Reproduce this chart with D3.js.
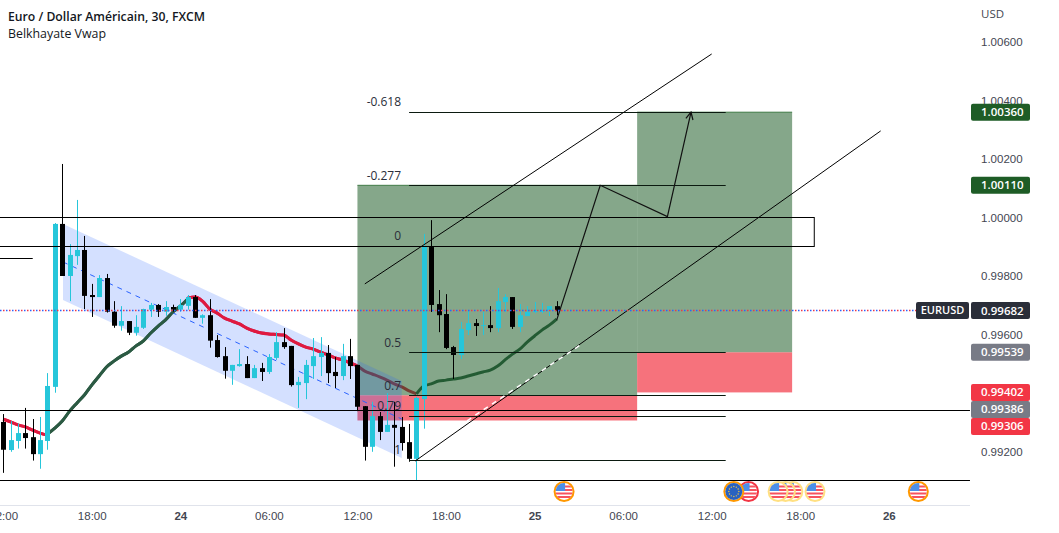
<!DOCTYPE html>
<html>
<head>
<meta charset="utf-8">
<script src="https://cdn.jsdelivr.net/npm/d3@7"></script>
<style>
html, body { margin: 0; padding: 0; background: #fff; }
svg { display: block; font-family: "Open Sans", "Noto Sans", sans-serif; }
</style>
</head>
<body>
<div id="result"></div>
<script>
// bars are counted from 24 00:00, one bar = 30 minutes
var firstBar = -24;
var opens = [
  0.99301,0.99205,0.99236,0.99263,0.99249,0.99191,0.99236,0.99421,0.99978,0.99800,
  0.99868,0.99889,0.99735,0.99728,0.99793,0.99678,0.99630,0.99646,0.99606,0.99623,
  0.99685,0.99701,0.99678,0.99694,0.99685,0.99698,0.99728,0.99657,0.99666,0.99581,
  0.99526,0.99476,0.99492,0.99499,0.99451,0.99485,0.99472,0.99520,0.99574,0.99561,
  0.99427,0.99434,0.99492,0.99523,0.99537,0.99472,0.99458,0.99526,0.99496,0.99355,
  0.99216,0.99321,0.99267,0.99291,0.99284,0.99232,0.99175,0.99379,0.99899,0.99704,
  0.99670,0.99557,0.99530,0.99615,0.99639,0.99629,0.99632,0.99622,0.99711,0.99728,
  0.99626,0.99663,0.99677,0.99677,0.99684,0.99697];
var highs = [
  0.99328,0.99304,0.99296,0.99349,0.99311,0.99318,0.99468,0.99981,1.00183,0.99909,
  1.00060,0.99937,0.99773,0.99803,0.99807,0.99714,0.99697,0.99646,0.99666,0.99688,
  0.99708,0.99704,0.99714,0.99702,0.99721,0.99735,0.99735,0.99669,0.99721,0.99598,
  0.99557,0.99496,0.99550,0.99526,0.99496,0.99503,0.99533,0.99608,0.99622,0.99561,
  0.99455,0.99513,0.99588,0.99591,0.99564,0.99523,0.99568,0.99585,0.99496,0.99355,
  0.99370,0.99335,0.99400,0.99370,0.99318,0.99294,0.99387,0.99944,0.99991,0.99752,
  0.99738,0.99561,0.99643,0.99680,0.99653,0.99680,0.99697,0.99759,0.99738,0.99728,
  0.99704,0.99697,0.99711,0.99708,0.99697,0.99714];
var lows = [
  0.99127,0.99199,0.99210,0.99210,0.99169,0.99141,0.99206,0.99401,0.99800,0.99714,
  0.99838,0.99687,0.99660,0.99728,0.99675,0.99623,0.99613,0.99598,0.99596,0.99619,
  0.99660,0.99660,0.99664,0.99678,0.99678,0.99685,0.99657,0.99637,0.99555,0.99521,
  0.99449,0.99428,0.99490,0.99451,0.99451,0.99441,0.99465,0.99513,0.99551,0.99422,
  0.99349,0.99379,0.99448,0.99458,0.99434,0.99417,0.99444,0.99448,0.99338,0.99169,
  0.99199,0.99239,0.99267,0.99148,0.99203,0.99165,0.99102,0.99278,0.99677,0.99608,
  0.99550,0.99448,0.99516,0.99598,0.99595,0.99598,0.99608,0.99608,0.99677,0.99619,
  0.99608,0.99663,0.99673,0.99673,0.99663,0.99666];
var closes = [
  0.99206,0.99239,0.99263,0.99246,0.99191,0.99239,0.99424,0.99978,0.99800,0.99872,
  0.99889,0.99732,0.99728,0.99793,0.99678,0.99630,0.99646,0.99606,0.99626,0.99687,
  0.99701,0.99678,0.99694,0.99685,0.99701,0.99728,0.99657,0.99666,0.99579,0.99523,
  0.99476,0.99496,0.99499,0.99451,0.99485,0.99472,0.99523,0.99574,0.99557,0.99427,
  0.99438,0.99496,0.99526,0.99537,0.99468,0.99458,0.99526,0.99492,0.99353,0.99216,
  0.99321,0.99267,0.99291,0.99281,0.99229,0.99175,0.99383,0.99899,0.99701,0.99666,
  0.99554,0.99530,0.99619,0.99639,0.99629,0.99632,0.99622,0.99714,0.99728,0.99626,
  0.99666,0.99677,0.99680,0.99684,0.99697,0.99680];

// Belkhayate Vwap, [first bar, values]
var vwapRed1 = [-24, [0.99311,0.99301,0.99291,0.99284,0.99273,0.99263,0.99256]];
var vwapGreen1 = [-18, [0.99260,0.99280,0.99304,0.99338,0.99366,0.99393,0.99427,0.99458,0.99489,0.99509,
  0.99526,0.99540,0.99561,0.99578,0.99605,0.99629,0.99650,0.99677,0.99697,0.99721]];
var vwapRed2 = [1, [0.99725,0.99728,0.99714,0.99687,0.99673,0.99656,0.99646,0.99636,0.99622,0.99612,
  0.99605,0.99602,0.99600,0.99598,0.99581,0.99568,0.99557,0.99550,0.99540,0.99530,
  0.99520,0.99513,0.99503,0.99492,0.99475,0.99465,0.99455,0.99444,0.99431,0.99421,0.99407,0.99397]];
var vwapGreen2 = [32, [0.99397,0.99424,0.99431,0.99441,0.99444,0.99448,0.99451,0.99458,0.99465,0.99472,
  0.99478,0.99492,0.99513,0.99533,0.99550,0.99574,0.99595,0.99615,0.99632,0.99653]];

// axis
var priceTicks = [1.006, 1.004, 1.002, 1.000, 0.998, 0.996, 0.994, 0.992];
var timeBars = [-24, -12, 0, 12, 24, 36, 48, 60, 72, 84, 96];
var timeLabels = ["12:00", "18:00", "24", "06:00", "12:00", "18:00", "25", "06:00", "12:00", "18:00", "26"];

// price tags on the right
var tagValues = [1.00360, 1.00110, 0.99682, 0.99539, 0.99402, 0.99386, 0.99306];
var tagKinds = ["target", "target", "last", "level", "stop", "level", "stop"];

// fibonacci levels
var fibLabels = ["-0.618", "-0.277", "0", "0.5", "0.7", "0.79", "1"];
var fibPrices = [1.00360, 1.00110, 0.99903, 0.99539, 0.99392, 0.99323, 0.99171];
var fibBars = [31, 73.9];

// boxes: bar from, bar to, price top, price bottom
var profitBoxes = [[24, 61.9, 1.00110, 0.99392], [61.9, 82.9, 1.00360, 0.99539]];
var stopBoxes = [[24, 61.9, 0.99392, 0.99306], [61.9, 82.9, 0.99539, 0.99402]];
var zoneBox = [-40, 85.9, 1.00003, 0.99903];

// descending channel corners and its middle line
var channelBars = [-15.9, 30];
var channelTop = [0.99978, 0.99441];
var channelBottom = [0.99718, 0.99178];
var channelMiddle = [0.99848, 0.99311];

// hand drawn lines
var levelLines = [[-40, 107, 0.99341], [-40, 107, 0.99101], [-40, -20, 0.99862]];
var upperTrend = [[25, 0.99773], [72, 1.00559]];
var lowerTrend = [[31.8, 0.99167], [94.9, 1.00296]];
var whiteTrend = [[38.85, 0.99305], [54.2, 0.99564]];
var pathBars = [51, 56.9, 66, 69.2];
var pathPrices = [0.99649, 1.00110, 1.00003, 1.00360];

// economic events
var eventBars = [52, 75, 77, 81, 82, 83, 86, 100];
var eventTypes = ["us", "eu", "us", "us", "us", "us", "us", "us"];
var eventRings = ["orange", "orange", "red", "yellow", "yellow", "yellow", "yellow", "orange"];

var lastPrice = 0.99682;

var width = 1059, height = 533;
var plotRight = 970;

var x = d3.scaleLinear().domain([-24, 96]).range([3.2, 888.8]);
var y = d3.scaleLinear().domain([0.992, 1.006]).range([451.5, 42]);
var cx = function (b) { return Math.round(x(b)) + 0.5; };

var svg = d3.select("#result")
    .append("svg")
    .attr("width", width)
    .attr("height", height);

var defs = svg.append("defs");
defs.append("marker")
    .attr("id", "head")
    .attr("viewBox", "0 0 10 10")
    .attr("refX", 9).attr("refY", 5)
    .attr("markerWidth", 9).attr("markerHeight", 9)
    .attr("markerUnits", "userSpaceOnUse")
    .attr("orient", "auto")
    .append("path")
    .attr("d", "M1 1 L9 5 L1 9")
    .attr("fill", "none")
    .attr("stroke", "#111")
    .attr("stroke-width", 1.4);
defs.append("clipPath").attr("id", "plot")
    .append("rect").attr("width", plotRight).attr("height", 505);
defs.append("clipPath").attr("id", "beforeBox")
    .append("rect").attr("width", x(profitBoxes[0][0])).attr("height", 505);
defs.append("clipPath").attr("id", "flag")
    .append("circle").attr("r", 8.5);

var plot = svg.append("g").attr("clip-path", "url(#plot)");

function vwapLine(parent, sel, color) {
    var line = d3.line()
        .x(function (d, i) { return x(sel[0] + i); })
        .y(function (d) { return y(d); })
        .curve(d3.curveMonotoneX);
    parent.append("path")
        .attr("d", line(sel[1]))
        .attr("fill", "none")
        .attr("stroke", color)
        .attr("stroke-width", 3);
}
function drawVwap(parent) {
    vwapLine(parent, vwapRed1, "#e0193f");
    vwapLine(parent, vwapGreen1, "#2b5a43");
    vwapLine(parent, vwapRed2, "#e0193f");
    vwapLine(parent, vwapGreen2, "#2b5a43");
}
// vwap goes under the boxes, they darken it
drawVwap(plot);

function boxes(data, fill, edge) {
    plot.selectAll(null)
        .data(data)
        .enter().append("rect")
        .attr("x", function (d) { return x(d[0]); })
        .attr("y", function (d) { return y(d[2]); })
        .attr("width", function (d) { return x(d[1]) - x(d[0]); })
        .attr("height", function (d) { return y(d[3]) - y(d[2]); })
        .attr("fill", fill);
    if (edge) {
        plot.selectAll(null)
            .data(data)
            .enter().append("line")
            .attr("x1", function (d) { return x(d[0]); })
            .attr("x2", function (d) { return x(d[1]); })
            .attr("y1", function (d) { return y(d[2]); })
            .attr("y2", function (d) { return y(d[2]); })
            .attr("stroke", edge);
    }
}
boxes(profitBoxes, "rgba(30,92,38,0.54)", "#3f7a45");
boxes(stopBoxes, "rgba(242,54,69,0.7)");

// channel
var channelArea = d3.area()
    .x(function (d) { return x(d.b); })
    .y0(function (d) { return y(d.top); })
    .y1(function (d) { return y(d.bottom); });
plot.append("path")
    .attr("d", channelArea(channelBars.map(function (b, i) {
        return { b: b, top: channelTop[i], bottom: channelBottom[i] };
    })))
    .attr("fill", "rgba(41,98,255,0.2)");
plot.append("line")
    .attr("x1", x(channelBars[0])).attr("y1", y(channelMiddle[0]))
    .attr("x2", x(channelBars[1])).attr("y2", y(channelMiddle[1]))
    .attr("stroke", "#2962ff")
    .attr("stroke-dasharray", "5 5");

// outside the boxes the vwap stays bright
drawVwap(plot.append("g").attr("clip-path", "url(#beforeBox)"));

// last price dotted line, red and blue dots in turn
[["#2962ff", 0], ["#f23645", 3]].forEach(function (s) {
    svg.append("line")
        .attr("x1", 0).attr("x2", 916)
        .attr("y1", Math.floor(y(lastPrice)) + 0.5).attr("y2", Math.floor(y(lastPrice)) + 0.5)
        .attr("stroke", s[0])
        .attr("stroke-width", 1.5)
        .attr("stroke-dasharray", "1.5 4.5")
        .attr("stroke-dashoffset", s[1]);
});

// candles
var candles = opens.map(function (o, i) {
    return { bar: firstBar + i, o: o, h: highs[i], l: lows[i], c: closes[i] };
});
var candleColor = function (d) { return d.c >= d.o ? "#26c6da" : "#000"; };
var candle = plot.selectAll(".candle")
    .data(candles)
    .enter().append("g")
    .attr("class", "candle");
candle.append("line")
    .attr("x1", function (d) { return cx(d.bar); })
    .attr("x2", function (d) { return cx(d.bar); })
    .attr("y1", function (d) { return y(d.h); })
    .attr("y2", function (d) { return y(d.l); })
    .attr("stroke", candleColor);
candle.append("rect")
    .attr("x", function (d) { return cx(d.bar) - 2.5; })
    .attr("width", 5)
    .attr("y", function (d) { return y(Math.max(d.o, d.c)); })
    .attr("height", function (d) { return Math.max(1, Math.abs(y(d.o) - y(d.c))); })
    .attr("fill", candleColor);

// fib levels
plot.selectAll(".fib")
    .data(fibPrices)
    .enter().append("line")
    .attr("class", "fib")
    .attr("x1", x(fibBars[0])).attr("x2", x(fibBars[1]))
    .attr("y1", function (d) { return Math.round(y(d)) + 0.5; })
    .attr("y2", function (d) { return Math.round(y(d)) + 0.5; })
    .attr("stroke", "#0b1a10");
plot.selectAll(".fibLabel")
    .data(fibPrices)
    .enter().append("text")
    .attr("class", "fibLabel")
    .attr("x", x(fibBars[0]) - 8)
    .attr("y", function (d) { return y(d) - 10; })
    .attr("dy", "0.35em")
    .attr("text-anchor", "end")
    .attr("font-size", 12)
    .attr("fill", "#2a2e39")
    .text(function (d, i) { return fibLabels[i]; });

// zone and level lines
plot.append("rect")
    .attr("x", x(zoneBox[0]))
    .attr("y", Math.round(y(zoneBox[2])) + 0.5)
    .attr("width", x(zoneBox[1]) - x(zoneBox[0]))
    .attr("height", Math.round(y(zoneBox[3])) - Math.round(y(zoneBox[2])))
    .attr("fill", "none")
    .attr("stroke", "#000");
plot.selectAll(".level")
    .data(levelLines)
    .enter().append("line")
    .attr("class", "level")
    .attr("x1", function (d) { return x(d[0]); })
    .attr("x2", function (d) { return x(d[1]); })
    .attr("y1", function (d) { return Math.round(y(d[2])) + 0.5; })
    .attr("y2", function (d) { return Math.round(y(d[2])) + 0.5; })
    .attr("stroke", "#000");

// trend lines
var trend = d3.line()
    .x(function (d) { return x(d[0]); })
    .y(function (d) { return y(d[1]); });
[upperTrend, lowerTrend].forEach(function (t) {
    plot.append("path").attr("d", trend(t))
        .attr("fill", "none").attr("stroke", "#000").attr("stroke-width", 1);
});
plot.append("path").attr("d", trend(whiteTrend))
    .attr("fill", "none").attr("stroke", "#fff")
    .attr("stroke-width", 1.5).attr("stroke-dasharray", "5 5");
plot.append("path")
    .attr("d", trend(pathBars.map(function (b, i) { return [b, pathPrices[i]]; })))
    .attr("fill", "none")
    .attr("stroke", "#111")
    .attr("stroke-width", 1.2)
    .attr("marker-end", "url(#head)");

// events, later ones first so the earlier flag stays on top
var ringColor = { orange: "#ff9800", red: "#f23645", yellow: "#ffe082" };
var events = eventBars.map(function (b, i) {
    return { bar: b, type: eventTypes[i], ring: eventRings[i] };
}).reverse();
var flag = svg.selectAll(".event")
    .data(events)
    .enter().append("g")
    .attr("class", "event")
    .attr("transform", function (d) { return "translate(" + x(d.bar) + ",491.5)"; });
flag.append("circle")
    .attr("r", 9.5)
    .attr("fill", "#fff")
    .attr("stroke", function (d) { return ringColor[d.ring]; })
    .attr("stroke-width", 2);
var us = flag.filter(function (d) { return d.type === "us"; })
    .append("g").attr("clip-path", "url(#flag)");
us.selectAll("rect.stripe")
    .data([-6, -2.5, 1, 4.5])
    .enter().append("rect")
    .attr("class", "stripe")
    .attr("x", -9).attr("y", function (d) { return d; })
    .attr("width", 18).attr("height", 2)
    .attr("fill", "#f7525f");
us.append("rect")
    .attr("x", -9).attr("y", -9).attr("width", 10).attr("height", 8.5)
    .attr("fill", "#4c8fe8");
var eu = flag.filter(function (d) { return d.type === "eu"; });
eu.append("circle").attr("r", 8.5).attr("fill", "#2962c0");
eu.selectAll("circle.star")
    .data(d3.range(12))
    .enter().append("circle")
    .attr("class", "star")
    .attr("r", 0.7)
    .attr("cx", function (d) { return 5 * Math.cos(d * Math.PI / 6); })
    .attr("cy", function (d) { return 5 * Math.sin(d * Math.PI / 6); })
    .attr("fill", "#f5c542");

// time axis
svg.append("line")
    .attr("x1", 0).attr("x2", plotRight)
    .attr("y1", 505.5).attr("y2", 505.5)
    .attr("stroke", "#e0e3eb");
var timeAxis = svg.append("g")
    .attr("transform", "translate(0,505)")
    .call(d3.axisBottom(x)
        .tickValues(timeBars)
        .tickSize(0)
        .tickPadding(7)
        .tickFormat(function (d, i) { return timeLabels[i]; }));
timeAxis.select(".domain").remove();
timeAxis.selectAll("text")
    .attr("font-family", "inherit")
    .attr("font-size", 11.5)
    .attr("fill", "#434651")
    .attr("font-weight", function (d, i) { return timeLabels[i].indexOf(":") < 0 ? 600 : 400; });

// price axis
var priceAxis = svg.append("g")
    .attr("transform", "translate(981,0)")
    .call(d3.axisRight(y)
        .tickValues(priceTicks)
        .tickSize(0)
        .tickPadding(0)
        .tickFormat(d3.format(".5f")));
priceAxis.select(".domain").remove();
priceAxis.selectAll("text")
    .attr("font-family", "inherit")
    .attr("font-size", 11.5)
    .attr("fill", "#434651");
svg.append("text")
    .attr("x", 981).attr("y", 13.5)
    .attr("dy", "0.35em")
    .attr("font-size", 11.5)
    .attr("fill", "#434651")
    .text("USD");

// price tags, pushed down when they would overlap
var tagColor = { target: "#1e5c26", last: "#2a2e39", level: "#787b86", stop: "#f23645" };
var tagHeight = 17;
var tags = tagValues.map(function (v, i) {
    return { value: v, kind: tagKinds[i], center: y(v) };
});
tags.forEach(function (t, i) {
    if (i > 0 && t.center < tags[i - 1].center + tagHeight) {
        t.center = tags[i - 1].center + tagHeight;
    }
});
var tag = svg.selectAll(".tag")
    .data(tags)
    .enter().append("g")
    .attr("class", "tag")
    .attr("transform", function (d) { return "translate(971," + d.center + ")"; });
tag.append("rect")
    .attr("y", -tagHeight / 2)
    .attr("width", 59)
    .attr("height", tagHeight)
    .attr("rx", 2)
    .attr("fill", function (d) { return tagColor[d.kind]; });
tag.append("text")
    .attr("x", 10)
    .attr("dy", "0.35em")
    .attr("font-size", 11.5)
    .attr("font-weight", 600)
    .attr("fill", "#fff")
    .text(function (d) { return d3.format(".5f")(d.value); });

// symbol tag next to the last price
var symbol = svg.append("g")
    .attr("transform", "translate(916," + y(lastPrice) + ")");
symbol.append("rect")
    .attr("y", -tagHeight / 2)
    .attr("width", 53)
    .attr("height", tagHeight)
    .attr("rx", 2)
    .attr("fill", tagColor.last);
symbol.append("text")
    .attr("x", 26.5)
    .attr("dy", "0.35em")
    .attr("text-anchor", "middle")
    .attr("font-size", 11)
    .attr("font-weight", 600)
    .attr("fill", "#fff")
    .text("EURUSD");

// title
svg.append("text")
    .attr("x", 8).attr("y", 16)
    .attr("dy", "0.35em")
    .attr("font-size", 13)
    .attr("font-weight", 600)
    .attr("fill", "#131722")
    .attr("textLength", 197)
    .attr("lengthAdjust", "spacingAndGlyphs")
    .text("Euro / Dollar Américain, 30, FXCM");
svg.append("text")
    .attr("x", 8).attr("y", 33)
    .attr("dy", "0.35em")
    .attr("font-size", 13)
    .attr("fill", "#131722")
    .attr("textLength", 98)
    .attr("lengthAdjust", "spacingAndGlyphs")
    .text("Belkhayate Vwap");
</script>
</body>
</html>
